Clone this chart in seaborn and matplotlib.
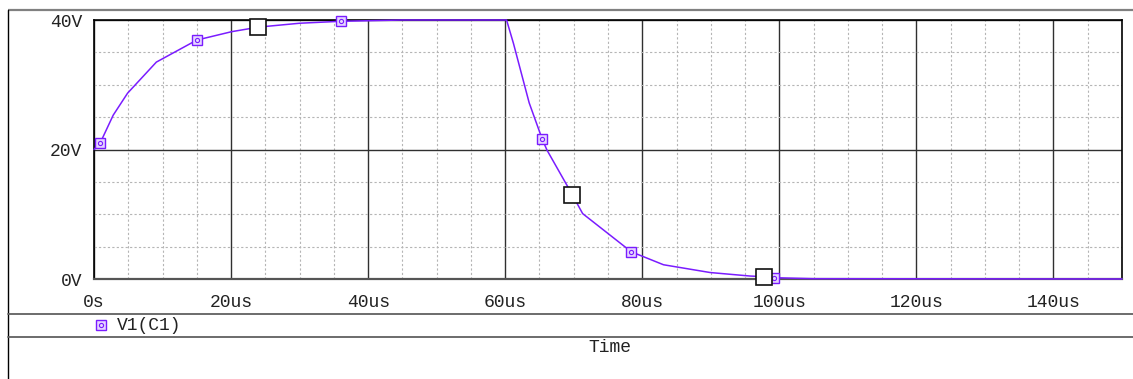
import numpy as np
import pandas as pd
import matplotlib
matplotlib.use("Agg")
import matplotlib.pyplot as plt
import seaborn as sns
from matplotlib.ticker import MultipleLocator, FixedLocator, FixedFormatter

# ---- data ----
time_us = [0.0, 0.9, 2.8, 4.9, 9.1, 15.0, 20.1, 24.0, 30.0, 36.0, 45.0, 60.0,
           60.2, 61.2, 63.5, 65.4, 66.1, 69.8, 71.3, 78.4, 83.1, 89.9, 95.7,
           97.8, 99.2, 105.0, 150.0]
v1_c1 = [20.0, 21.0, 25.3, 28.7, 33.5, 36.9, 38.2, 38.9, 39.5, 39.8, 40.0, 40.0,
         40.0, 36.4, 27.2, 21.6, 19.9, 13.0, 10.1, 4.2, 2.2, 1.0, 0.46,
         0.36, 0.2, 0.05, 0.0]

trace_marker_t = [0.9, 15.0, 36.0, 65.4, 78.4, 99.2]
trace_marker_v = [21.0, 36.9, 39.8, 21.6, 4.2, 0.2]

cursor_t = [24.0, 69.8, 97.8]
cursor_v = [38.9, 13.0, 0.36]

x_ticks = [0, 20, 40, 60, 80, 100, 120, 140]
x_tick_labels = ["0s", "20us", "40us", "60us", "80us", "100us", "120us", "140us"]
y_ticks = [0, 20, 40]
y_tick_labels = ["0V", "20V", "40V"]
trace_label = "V1(C1)"
x_label = "Time"

TRACE = "#7a1cff"
FONT = "Liberation Mono"
FS = 13

sns.set_style("white")
plt.rcParams["font.family"] = [FONT, "DejaVu Sans"]

W, H = 1133, 379
fig = plt.figure(figsize=(W / 100, H / 100), dpi=100)

# background decoration axes in pixel coordinates
bg = fig.add_axes([0, 0, 1, 1], zorder=-1)
bg.set_xlim(0, W)
bg.set_ylim(H, 0)
bg.axis("off")
bg.plot([8, W], [9.5, 9.5], color="#808080", lw=1.6, solid_capstyle="butt")
bg.plot([8, 8], [9.5, H], color="#000000", lw=1.0)
bg.plot([8, W], [314, 314], color="#606060", lw=1.3)
bg.plot([8, W], [337, 337], color="#606060", lw=1.3)
bg.plot([101], [325], marker="s", ms=7, mfc="#e6d6ff", mec=TRACE, mew=1.0, ls="none")
bg.plot([101], [325], marker="o", ms=3, mfc="none", mec=TRACE, mew=0.8, ls="none")
bg.text(117, 325, trace_label, fontsize=FS, family=FONT, va="center", ha="left", color="#222222")
bg.text(610, 348, x_label, fontsize=FS, family=FONT, va="center", ha="center", color="#222222")

# main axes
left, right, top, bottom = 94, 1122, 20, 279
ax = fig.add_axes([left / W, 1 - bottom / H, (right - left) / W, (bottom - top) / H])

df = pd.DataFrame({"t": time_us, "v": v1_c1})
sns.lineplot(data=df, x="t", y="v", ax=ax, color=TRACE, lw=1.1, zorder=5,
             estimator=None, sort=False, clip_on=False)

ax.plot(trace_marker_t, trace_marker_v, ls="none", marker="s", ms=7,
        mfc="#e6d6ff", mec=TRACE, mew=1.0, zorder=6, clip_on=False)
ax.plot(trace_marker_t, trace_marker_v, ls="none", marker="o", ms=3,
        mfc="none", mec=TRACE, mew=0.8, zorder=7, clip_on=False)
ax.plot(cursor_t, cursor_v, ls="none", marker="s", ms=11,
        mfc="white", mec="#111111", mew=1.2, zorder=8, clip_on=False)

ax.set_xlim(0, 150)
ax.set_ylim(0, 40)
ax.xaxis.set_major_locator(FixedLocator(x_ticks))
ax.xaxis.set_major_formatter(FixedFormatter(x_tick_labels))
ax.yaxis.set_major_locator(FixedLocator(y_ticks))
ax.yaxis.set_major_formatter(FixedFormatter(y_tick_labels))
ax.xaxis.set_minor_locator(MultipleLocator(5))
ax.yaxis.set_minor_locator(MultipleLocator(5))

ax.grid(which="major", color="#303030", lw=1.0, ls="-", zorder=1)
ax.grid(which="minor", color="#b5b5b5", lw=0.8, ls=(0, (2, 2)), zorder=0)
ax.set_axisbelow(True)

ax.tick_params(which="major", direction="out", length=5, width=1.0, color="#222222",
               labelsize=FS, labelcolor="#222222")
ax.tick_params(axis="y", which="major", pad=3.5)
ax.tick_params(axis="x", which="major", pad=6)
ax.tick_params(which="minor", length=0)
for lbl in ax.get_xticklabels() + ax.get_yticklabels():
    lbl.set_family(FONT)

for s in ["top", "right", "left"]:
    ax.spines[s].set_color("#000000")
    ax.spines[s].set_linewidth(1.2)
ax.spines["bottom"].set_color("#555555")
ax.spines["bottom"].set_linewidth(1.6)
ax.set_xlabel("")
ax.set_ylabel("")

fig.savefig("out.png", dpi=100)
